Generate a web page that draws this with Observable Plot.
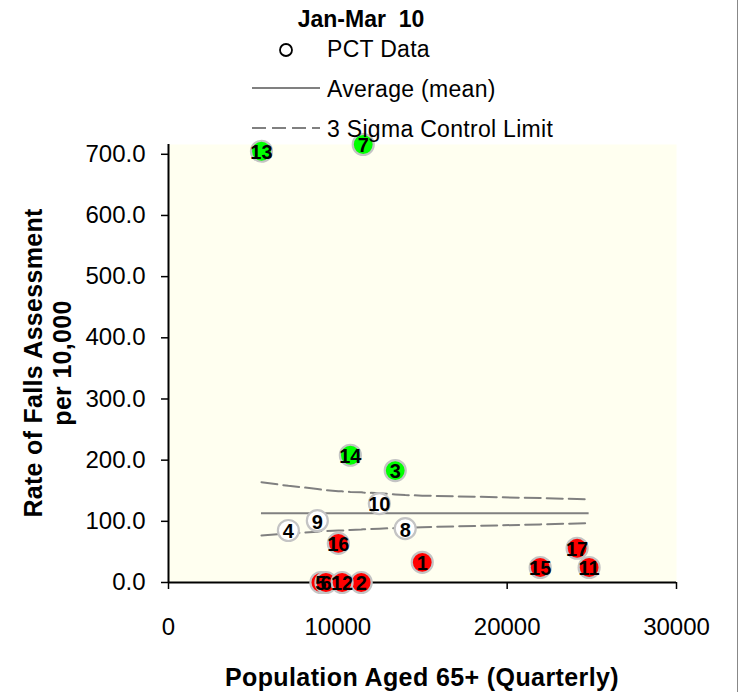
<!DOCTYPE html>
<html>
<head>
<meta charset="utf-8">
<script src="https://cdn.jsdelivr.net/npm/d3@7"></script>
<script src="https://cdn.jsdelivr.net/npm/@observablehq/plot@0.6"></script>
<style>
  html, body { margin: 0; padding: 0; background: #fff; }
  #chart { width: 738px; height: 692px; }
</style>
</head>
<body>
<div id="chart"></div>
<script>
// ---- Data ----
const pctIds     = ["1","2","3","4","5","6","7","8","9","10","11","12","13","14","15","16","17"];
const population = [14985, 11380, 13390, 7080, 9000, 9300, 11500, 13980, 8790, 12450, 24840, 10250, 5490, 10740, 21950, 10030, 24130];
const rate       = [33, 0, 183, 85, 0, 0, 716, 88, 101, 129, 24.5, 0, 705, 208, 24.5, 64, 56];
const status     = ["low","low","high","within","low","low","high","within","within","within","low","low","high","high","low","low","low"];

const meanRate = 113;
const limitPopulation = [5490, 7080, 8790, 9000, 9300, 10030, 10250, 10740, 11380, 11500, 12450, 13390, 13980, 14985, 21950, 24130, 24840];
const upperLimit      = [164, 158, 153, 152, 151, 149, 149, 148, 147.5, 147, 146, 144, 143, 142, 138, 136.5, 136];
const lowerLimit      = [77, 80, 83, 84, 84, 85, 85, 86, 86.5, 87, 88, 89, 89.5, 90.5, 95, 96.5, 97];

const xTicks = [0, 10000, 20000, 30000];
const yTicks = [0, 100, 200, 300, 400, 500, 600, 700];

const titleText = "Jan-Mar\u00a0\u00a010";
const legendLabels = ["PCT Data", "Average (mean)", "3 Sigma Control Limit"];
const xTitle = "Population Aged 65+ (Quarterly)";
const yTitleLines = ["Rate of Falls Assessment", "per 10,000"];

// ---- Tables built from the arrays ----
const points = pctIds.map((id, i) => ({id, pop: population[i], rate: rate[i], status: status[i]}));
const limits = limitPopulation.map((p, i) => ({pop: p, upper: upperLimit[i], lower: lowerLimit[i]}));
const popMin = d3.min(limitPopulation), popMax = d3.max(limitPopulation);

const FONT = "'Liberation Sans', Arial, sans-serif";
const grey = "#808080";

const plot = Plot.plot({
  width: 738,
  height: 692,
  marginLeft: 168,
  marginRight: 62,
  marginTop: 144,
  marginBottom: 110,
  style: {fontFamily: FONT, background: "transparent", overflow: "visible"},
  x: {domain: [0, 30000]},
  y: {domain: [0, 716]},
  color: {domain: ["high", "within", "low"], range: ["#00ff00", "#ffffff", "#ff0000"]},
  marks: [
    Plot.frame({fill: "#fffff0", stroke: null}),
    Plot.axisX({ticks: xTicks, tickFormat: d3.format("d"), tickSize: 7, tickPadding: 28, fontSize: 24, stroke: "#000", strokeWidth: 1.5, color: "#000", label: null}),
    Plot.axisY({ticks: yTicks, tickFormat: d3.format(".1f"), tickSize: 7, tickPadding: 16, fontSize: 24, stroke: "#000", strokeWidth: 1.5, color: "#000", label: null}),
    Plot.ruleX([0], {stroke: "#000", strokeWidth: 2}),
    Plot.ruleY([0], {stroke: "#000", strokeWidth: 2}),
    Plot.line(limits, {x: "pop", y: "upper", stroke: grey, strokeWidth: 2, strokeDasharray: "16,6"}),
    Plot.line(limits, {x: "pop", y: "lower", stroke: grey, strokeWidth: 2, strokeDasharray: "16,6"}),
    Plot.ruleY([meanRate], {x1: popMin, x2: popMax, stroke: grey, strokeWidth: 2}),
    Plot.dot(points, {x: "pop", y: "rate", r: 10.5, fill: "status", stroke: "#c4c4c4", strokeWidth: 2.2, fillOpacity: 1}),
    Plot.text(points, {x: "pop", y: "rate", text: "id", fontSize: 20, fontWeight: "bold", fill: "#000", dy: 1.5, letterSpacing: -1})
  ]
});

document.getElementById("chart").appendChild(plot);

// ---- Titles, legend and border appended to the same SVG ----
const svg = d3.select(plot);
const g = svg.append("g").attr("font-family", FONT).attr("fill", "#000").attr("text-anchor", "start");

g.append("text").attr("x", 361).attr("y", 27).attr("text-anchor", "middle")
  .attr("font-size", 23).attr("font-weight", "bold").text(titleText);

// legend
g.append("circle").attr("cx", 286).attr("cy", 50).attr("r", 6).attr("fill", "none")
  .attr("stroke", "#000").attr("stroke-width", 1.8);
g.append("line").attr("x1", 252).attr("x2", 320).attr("y1", 88).attr("y2", 88)
  .attr("stroke", grey).attr("stroke-width", 2);
g.append("line").attr("x1", 252).attr("x2", 320).attr("y1", 128).attr("y2", 128)
  .attr("stroke", grey).attr("stroke-width", 2).attr("stroke-dasharray", "14,6");
[57, 97, 137].forEach((y, i) => {
  g.append("text").attr("x", 327).attr("y", y).attr("text-anchor", "start")
    .attr("font-size", 23).attr("letter-spacing", 0.3).text(legendLabels[i]);
});

// axis titles
g.append("text").attr("x", 422).attr("y", 686).attr("text-anchor", "middle")
  .attr("font-size", 25).attr("font-weight", "bold").attr("letter-spacing", 0.4).text(xTitle);
const yt = g.append("text").attr("transform", "translate(0,363) rotate(-90)")
  .attr("text-anchor", "middle").attr("font-size", 25).attr("font-weight", "bold").attr("letter-spacing", 0.3);
yt.append("tspan").attr("x", 0).attr("y", 42).text(yTitleLines[0]);
yt.append("tspan").attr("x", 0).attr("y", 71).text(yTitleLines[1]);

// right border line
svg.append("line").attr("x1", 737.5).attr("x2", 737.5).attr("y1", 0).attr("y2", 692)
  .attr("stroke", "#888").attr("stroke-width", 1);
</script>
</body>
</html>
